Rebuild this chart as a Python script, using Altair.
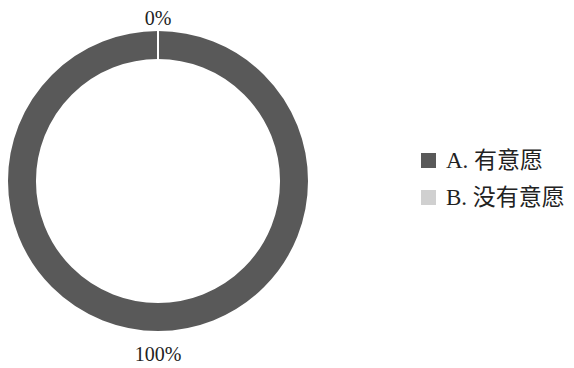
import altair as alt
import pandas as pd

categories = ["A. 有意愿", "B. 没有意愿"]
values = [100, 0]
labels = ["100%", "0%"]
colors = ["#595959", "#d0d0d0"]

df = pd.DataFrame({"cat": categories, "value": values, "label": labels, "order": [0, 1]})

FONT = "Liberation Serif, Noto Sans CJK SC"
TOP = 10
BOTTOM = 8
CX, CY = 150, 173 - TOP

base = alt.Chart(df).encode(
    theta=alt.Theta("value:Q", stack=True),
    order=alt.Order("order:Q"),
)

arc = base.mark_arc(outerRadius=151, innerRadius=121, stroke="white", strokeWidth=2).encode(
    color=alt.Color(
        "cat:N",
        scale=alt.Scale(domain=categories, range=colors),
        legend=alt.Legend(
            title=None,
            orient="none",
            legendX=409,
            legendY=141 - TOP,
            symbolType="square",
            symbolSize=225,
            symbolStrokeWidth=0,
            labelFont=FONT,
            labelFontSize=23,
            labelColor="#222222",
            rowPadding=13,
            labelOffset=6,
            labelLimit=200,
        ),
    ),
    x=alt.value(CX),
    y=alt.value(CY),
)

text = base.mark_text(radius=168, dy=6, font=FONT, fontSize=20, color="#222222").encode(
    text="label:N",
    x=alt.value(CX),
    y=alt.value(CY),
)

chart = (
    (arc + text)
    .properties(
        width=558,
        height=352 - TOP,
        padding={"top": TOP, "left": 0, "right": 0, "bottom": BOTTOM},
        autosize=alt.AutoSizeParams(type="none"),
        background="white",
    )
    .configure_view(stroke=None, strokeWidth=0)
)

chart.save("out.html", embed_options={"renderer": "svg", "actions": False})
